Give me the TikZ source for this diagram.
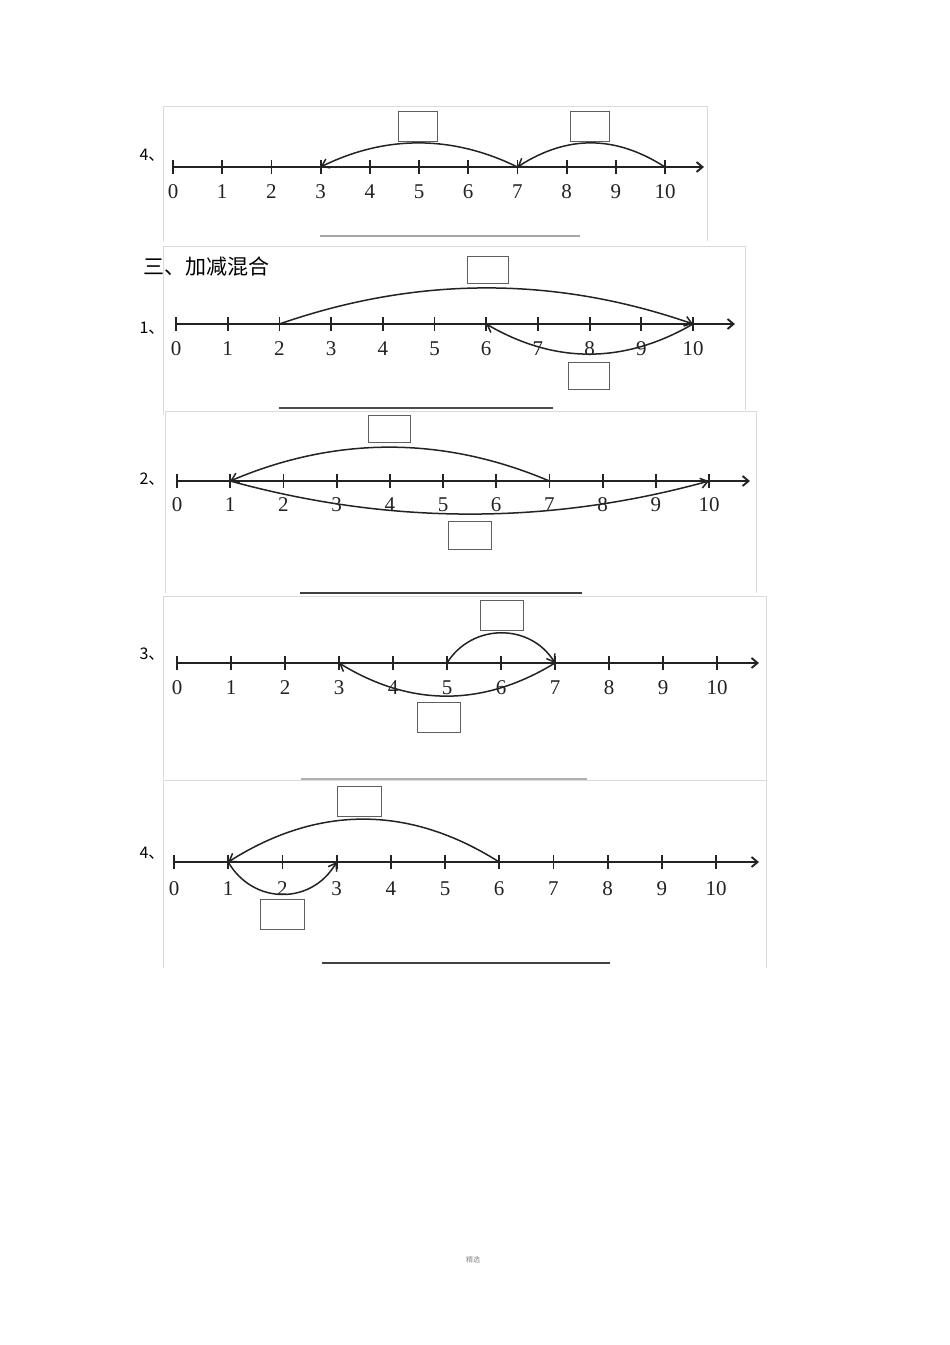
\documentclass[tikz,border=0pt]{standalone}
\usepackage{fontspec}
\setmainfont{Liberation Serif}
\newfontfamily\cjkfont{Noto Sans CJK SC}
\usepackage{tikz}
\usetikzlibrary{arrows.meta}
\definecolor{framegray}{RGB}{218, 218, 218}
\definecolor{boxgray}{RGB}{95, 95, 95}
\definecolor{inkgray}{RGB}{35, 35, 35}

\tikzset{
    axisline/.style={inkgray, line width=1.9pt, -{Straight Barb[length=6pt, width=10pt]}},
    tickmark/.style={inkgray, line width=1.8pt},
    jump/.style={inkgray, line width=1.5pt, -{Straight Barb[length=7pt, width=10pt]}},
    ansbox/.style={draw=boxgray, line width=0.9pt, minimum width=41pt, minimum height=29pt, inner sep=0pt},
    num/.style={inkgray, font=\fontsize{21}{21}\selectfont, inner sep=0pt},
    itemlabel/.style={font=\cjkfont\fontsize{16}{16}\selectfont, inner sep=0pt},
    frameline/.style={framegray, line width=1pt},
    ansline/.style={line width=1.3pt},
}

% number line: name, x of 0, y, step, x of arrow tip, label offset
\newcommand{\drawnumline}[6]{
    \draw[axisline] (#2,#3) -- (#5,#3);
    \foreach \i in {0,...,10} {
        \coordinate (#1\i) at ({#2+\i*#4},#3);
        \draw[tickmark] ({#2+\i*#4},#3-7) -- ({#2+\i*#4},#3+7);
        \node[num] (#1n\i) at ({#2+\i*#4},#3+#6) {\i};
    }
}

\begin{document}
\begin{tikzpicture}[x=1pt, y=-1pt]
            \fill[white] (0,0) rectangle (950,1345);
            \useasboundingbox (0,0) rectangle (950,1345);

            % Frames
            \draw[frameline] (163,241) -- (163,106) -- (707,106) -- (707,241);
            \draw[frameline] (163,415) -- (163,246) -- (745,246) -- (745,410);
            \draw[frameline] (165,593) -- (165,411) -- (756,411) -- (756,593);
            \draw[frameline] (163,779) -- (163,596) -- (766,596) -- (766,780);
            \draw[frameline] (163,968) -- (163,780) -- (766,780) -- (766,968);

            % Item 4 (previous part)
            \node[itemlabel] (qa) at (152,155) {4、};
            \drawnumline{a}{173}{167}{49.2}{704}{25}
            \node[ansbox, minimum width=39pt, minimum height=30pt] (boxa1) at (417.5,126) {};
            \node[ansbox, minimum width=39pt, minimum height=30pt] (boxa2) at (589.5,126) {};
            \draw[jump] (a7)  .. controls +(-65,-32) and +(65,-32) .. (a3);
            \draw[jump] (a10) .. controls +(-50,-32) and +(50,-32) .. (a7);
            \draw[ansline, gray!70] (320,236) -- (580,236);

            % Title
            \node[font=\cjkfont\fontsize{21}{21}\selectfont, anchor=west, inner sep=0pt] (title) at (143,267) {三、加减混合};

            % Item 1
            \node[itemlabel] (qb) at (152,328) {1、};
            \drawnumline{b}{176}{324}{51.7}{735}{25}
            \node[ansbox, minimum height=27pt] (boxb1) at (487.5,269.5) {};
            \node[ansbox, minimum height=27pt] (boxb2) at (588.5,375.5) {};
            \draw[jump] (b2)  .. controls +(138,-48) and +(-138,-48) .. (b10);
            \draw[jump] (b10) .. controls +(-69,40) and +(69,40) .. (b6);
            \draw[ansline, black!70] (279,408) -- (553,408);

            % Item 2
            \node[itemlabel] (qc) at (152,479) {2、};
            \drawnumline{c}{177}{481}{53.2}{750}{24}
            \node[ansbox, minimum width=42pt, minimum height=27pt] (boxc1) at (389,428.5) {};
            \node[ansbox, minimum width=43pt, minimum height=28pt] (boxc2) at (469.5,535) {};
            \draw[jump] (c7) .. controls +(-106,-45) and +(106,-45) .. (c1);
            \draw[jump] (c1) .. controls +(160,44) and +(-160,44) .. (c10);
            \draw[ansline, black!75] (300,593) -- (582,593);

            % Item 3
            \node[itemlabel] (qd) at (152,654) {3、};
            \drawnumline{d}{177}{663}{54}{759}{25}
            \node[ansbox, minimum width=43pt, minimum height=30pt] (boxd1) at (501.5,615) {};
            \node[ansbox, minimum width=43pt, minimum height=30pt] (boxd2) at (438.5,717.5) {};
            \draw[jump] (d5) .. controls +(25,-40) and +(-25,-40) .. (d7);
            \draw[jump] (d7) .. controls +(-72,44) and +(72,44) .. (d3);
            \draw[ansline, gray!60] (301,779) -- (587,779);

            % Item 4
            \node[itemlabel] (qe) at (152,853) {4、};
            \drawnumline{e}{174}{862}{54.2}{759}{27}
            \node[ansbox, minimum width=44pt, minimum height=30pt] (boxe1) at (359,801) {};
            \node[ansbox, minimum width=44pt, minimum height=30pt] (boxe2) at (282,914.5) {};
            \draw[jump] (e6) .. controls +(-90,-57) and +(90,-57) .. (e1);
            \draw[jump] (e1) .. controls +(25,43) and +(-25,43) .. (e3);
            \draw[ansline, black!75] (322,963) -- (610,963);

            % Footer
            \node[font=\cjkfont\fontsize{7}{7}\selectfont, gray, inner sep=0pt] (footer) at (473,1260) {精选};
        \end{tikzpicture}
\end{document}
